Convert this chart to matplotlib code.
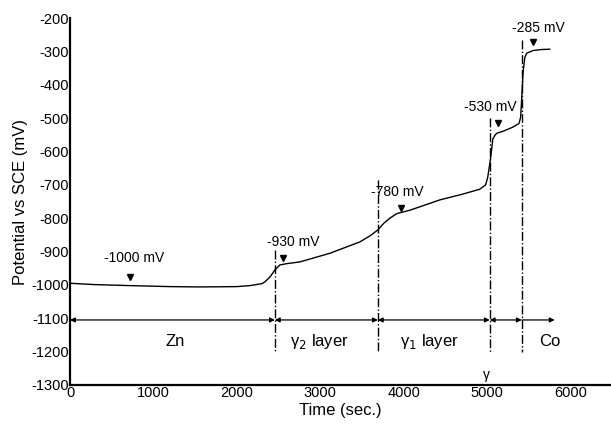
import numpy as np
import matplotlib.pyplot as plt

plt.rcParams['font.family'] = ['Liberation Sans', 'DejaVu Sans']
plt.rcParams['axes.unicode_minus'] = False

# potential curve (time in s, potential in mV)
time = [0, 300, 719, 1200, 1557, 2000, 2156, 2300, 2335, 2400, 2455, 2515, 2600,
        2754, 3114, 3473, 3600, 3689, 3760, 3832, 3916, 4072, 4431, 4700, 4910,
        4980, 5006, 5040, 5066, 5090, 5114, 5200, 5305, 5380, 5400, 5413, 5430,
        5450, 5473, 5550, 5650, 5749]
potential = [-995, -999, -1002, -1005, -1006, -1005, -1002, -996, -991, -975,
             -955, -940, -936, -931, -905, -871, -852, -835, -815, -800, -786,
             -776, -745, -728, -713, -700, -677, -620, -563, -552, -545, -538,
             -527, -516, -497, -440, -360, -318, -305, -297, -294, -293]

# phase boundaries (s) and the top of each dash-dot line (mV)
bounds = [2455, 3689, 5030, 5413]
bound_tops = [-895, -686, -500, -265]
arrow_end = 5808

regions = ['Zn', 'γ$_2$ layer', 'γ$_1$ layer', 'Co']
region_x = [1257, 2994, 4311, 5749]

marks = ['-1000 mV', '-930 mV', '-780 mV', '-530 mV', '-285 mV']
mark_text_x = [766, 2670, 3928, 5042, 5617]
mark_text_y = [-919, -871, -721, -467, -230]
mark_tri_x = [719, 2551, 3964, 5126, 5545]
mark_tri_y = [-976, -920, -770, -515, -272]

fig = plt.figure(figsize=(6.11, 4.30), dpi=100)
ax = fig.add_axes([0.1146, 0.1047, 0.885, 0.853])

ax.plot(time, potential, color='black', lw=1.0)

for b, top in zip(bounds, bound_tops):
    ax.plot([b, b], [top, -1200], color='black', lw=1.0, ls='-.')

# arrows along -1105 mV
edges = [0] + bounds
for a, b in zip(edges[:-1], edges[1:]):
    ax.annotate('', xy=(a, -1105), xytext=(b, -1105),
                arrowprops=dict(arrowstyle='<|-|>', color='black', lw=0.9,
                                mutation_scale=7, shrinkA=0, shrinkB=0))
ax.annotate('', xy=(arrow_end, -1105), xytext=(bounds[-1], -1105),
            arrowprops=dict(arrowstyle='-|>', color='black', lw=0.9,
                            mutation_scale=7, shrinkA=0, shrinkB=0))

for r, x in zip(regions, region_x):
    ax.text(x, -1170, r, ha='center', va='center', fontsize=12)
ax.text(4994, -1270, 'γ', ha='center', va='center', fontsize=10)

for t, tx, ty, mx, my in zip(marks, mark_text_x, mark_text_y, mark_tri_x, mark_tri_y):
    ax.text(tx, ty, t, ha='center', va='center', fontsize=10)
    ax.plot(mx, my, marker='v', color='black', ms=4)

ax.set_xlim(0, 6480)
ax.set_ylim(-1300, -200)
ax.set_xticks([0, 1000, 2000, 3000, 4000, 5000, 6000])
ax.set_yticks(np.arange(-1300, -199, 100))
ax.tick_params(length=0, labelsize=10.5, pad=1)
ax.spines['top'].set_visible(False)
ax.spines['right'].set_visible(False)
ax.spines['left'].set_linewidth(1.6)
ax.spines['bottom'].set_linewidth(1.6)
ax.set_xlabel('Time (sec.)', fontsize=12, labelpad=2)
ax.set_ylabel('Potential vs SCE (mV)', fontsize=12, labelpad=2)

fig.savefig('out.png', dpi=100)
